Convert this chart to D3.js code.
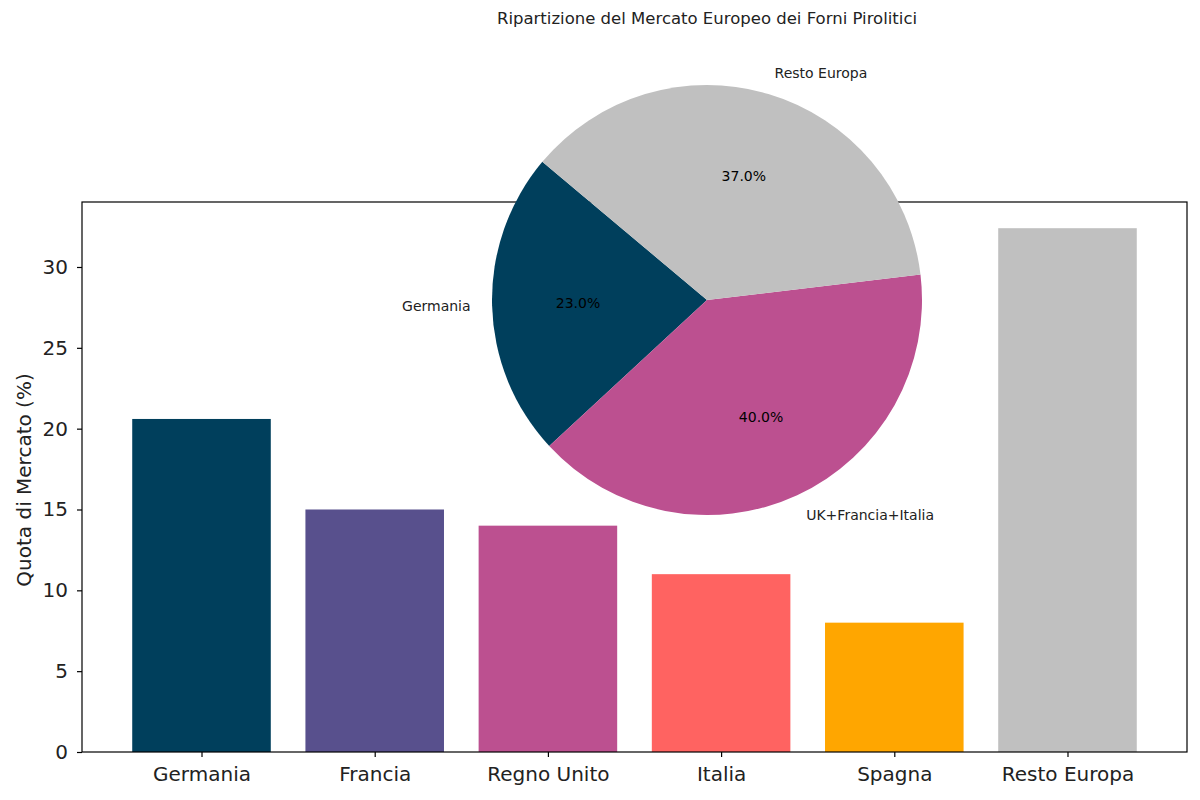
<!DOCTYPE html>
<html>
<head>
<meta charset="UTF-8">
<title>Mercato Europeo Forni Pirolitici</title>
<script src="https://d3js.org/d3.v7.min.js"></script>
<style>
  body { margin: 0; background: #fff; }
  svg text { font-family: "DejaVu Sans", sans-serif; }
</style>
</head>
<body>
<div id="chart"></div>
<script>
// bar data
var categories = ["Germania", "Francia", "Regno Unito", "Italia", "Spagna", "Resto Europa"];
var shares = [20.6, 15, 14, 11, 8, 32.4];
var barColors = ["#003f5c", "#58508d", "#bc5090", "#ff6361", "#ffa600", "#c0c0c0"];
var yTicks = [0, 5, 10, 15, 20, 25, 30];

// pie data
var pieLabels = ["Germania", "UK+Francia+Italia", "Resto Europa"];
var pieValues = [23, 40, 37];
var pieColors = ["#003f5c", "#bc5090", "#c0c0c0"];
var pieTitle = "Ripartizione del Mercato Europeo dei Forni Pirolitici";

var W = 1200, H = 800;
var margin = {top: 202, right: 13, bottom: 48, left: 82};
var width = W - margin.left - margin.right,
    height = H - margin.top - margin.bottom;

var svg = d3.select("#chart").append("svg")
    .attr("width", W).attr("height", H);

var g = svg.append("g")
    .attr("transform", "translate(" + margin.left + "," + margin.top + ")");

// matplotlib-like x limits: bars at 0..5, width 0.8, 5% margins
var xScale = d3.scaleLinear()
    .domain([-0.4 - 0.29, 5.4 + 0.29])
    .range([0, width]);

var yScale = d3.scaleLinear()
    .domain([0, d3.max(shares) * 1.05])
    .range([height, 0]);

g.selectAll("rect.bar")
    .data(shares)
    .join("rect")
    .attr("class", "bar")
    .attr("x", (d, i) => xScale(i - 0.4))
    .attr("width", xScale(0.4) - xScale(-0.4))
    .attr("y", d => yScale(d))
    .attr("height", d => height - yScale(d))
    .attr("fill", (d, i) => barColors[i]);

// axes
var xAxis = g.append("g")
    .attr("transform", "translate(0," + height + ")")
    .call(d3.axisBottom(xScale)
        .tickValues(d3.range(categories.length))
        .tickFormat(i => categories[i])
        .tickSize(5).tickPadding(10));
var yAxis = g.append("g")
    .call(d3.axisLeft(yScale).tickValues(yTicks).tickSize(5).tickPadding(9));

[xAxis, yAxis].forEach(function(ax) {
    ax.select(".domain").remove();
    ax.selectAll("line").attr("stroke", "#000").attr("stroke-width", 1.2);
    ax.selectAll("text").attr("font-size", 20).attr("fill", "#222")
        .style("font-family", "DejaVu Sans, sans-serif");
});

// frame
g.append("rect")
    .attr("width", width).attr("height", height)
    .attr("fill", "none").attr("stroke", "#000").attr("stroke-width", 1.2);

g.append("text")
    .attr("transform", "translate(" + (-51) + "," + (height / 2 + 3) + ") rotate(-90)")
    .attr("text-anchor", "middle")
    .attr("font-size", 20)
    .attr("fill", "#222")
    .text("Quota di Mercato (%)");

// ---- pie inset ----
var cx = 707, cy = 300, R = 215;
var pg = svg.append("g").attr("transform", "translate(" + cx + "," + cy + ")");

// matplotlib startangle=140, counterclockwise -> d3 angles
var start = (90 - 140) * Math.PI / 180;
var pie = d3.pie().sort(null)
    .startAngle(start)
    .endAngle(start - 2 * Math.PI);
var arcs = pie(pieValues);
var arc = d3.arc().innerRadius(0).outerRadius(R);

pg.selectAll("path")
    .data(arcs)
    .join("path")
    .attr("d", arc)
    .attr("fill", (d, i) => pieColors[i]);

function pos(d, k) {
    var a = (d.startAngle + d.endAngle) / 2;
    return [Math.sin(a) * R * k, -Math.cos(a) * R * k];
}

pg.selectAll("text.plabel")
    .data(arcs)
    .join("text")
    .attr("class", "plabel")
    .attr("x", d => pos(d, 1.1)[0])
    .attr("y", d => pos(d, 1.1)[1])
    .attr("dy", "0.35em")
    .attr("text-anchor", d => pos(d, 1.1)[0] > 0 ? "start" : "end")
    .attr("font-size", 14)
    .attr("fill", "#222")
    .text((d, i) => pieLabels[i]);

pg.selectAll("text.pct")
    .data(arcs)
    .join("text")
    .attr("class", "pct")
    .attr("x", d => pos(d, 0.6)[0])
    .attr("y", d => pos(d, 0.6)[1])
    .attr("dy", "0.35em")
    .attr("text-anchor", "middle")
    .attr("font-size", 14)
    .attr("fill", "#000")
    .text(d => d.value.toFixed(1) + "%");

svg.append("text")
    .attr("x", cx).attr("y", 18)
    .attr("dy", "0.35em")
    .attr("text-anchor", "middle")
    .attr("font-size", 16.5)
    .attr("fill", "#222")
    .text(pieTitle);
</script>
</body>
</html>
